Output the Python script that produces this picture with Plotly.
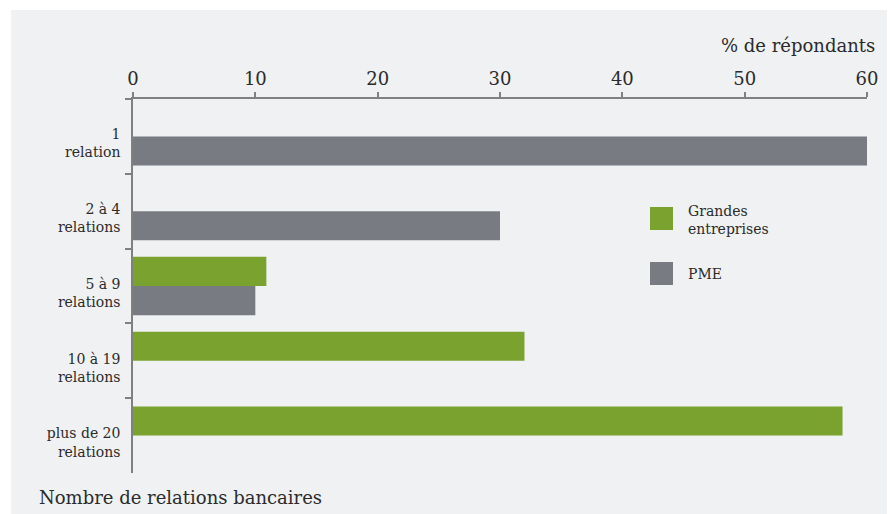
import plotly.graph_objects as go

categories = ["1<br>relation", "2 à 4<br>relations", "5 à 9<br>relations",
              "10 à 19<br>relations", "plus de 20<br>relations"]
grandes = [None, None, 10.9, 32.0, 58.0]
pme = [60.0, 30.0, 10.0, None, None]
x_ticks = [0, 10, 20, 30, 40, 50, 60]
series_names = ["Grandes<br>entreprises", "PME"]

GREEN = "#79a22f"
GRAY = "#797b83"
BG = "#f0f1f3"
TXT = "#2b2b2b"
AX = "#808080"
FONT = "DejaVu Serif"

# page body has an 8px margin: build figure in page pixels, then offset
OFF = 8
PW, PH = 895, 514
W, H = PW - OFF, PH - OFF
L, R, T, B = 133 - OFF, PW - 867, 99 - OFF, PH - 473
pw, ph = W - L - R, H - T - B

def px(x):
    return (x - OFF - L) / pw

def py(y):
    return (H - B - (y - OFF)) / ph

fig = go.Figure()
fig.add_trace(go.Bar(y=categories, x=grandes, orientation="h", name="Grandes entreprises",
                     marker=dict(color=GREEN, line=dict(width=0)), showlegend=False))
fig.add_trace(go.Bar(y=categories, x=pme, orientation="h", name="PME",
                     marker=dict(color=GRAY, line=dict(width=0)), showlegend=False))

shapes = [
    dict(type="rect", xref="paper", yref="paper", x0=px(11), x1=px(PW + 2), y0=py(PH + 2), y1=py(10),
         fillcolor=BG, line=dict(width=0), layer="below"),
    dict(type="rect", xref="paper", yref="paper", x0=px(650), x1=px(673), y0=py(230), y1=py(207),
         fillcolor=GREEN, line=dict(width=0)),
    dict(type="rect", xref="paper", yref="paper", x0=px(650), x1=px(673), y0=py(285), y1=py(262),
         fillcolor=GRAY, line=dict(width=0)),
]

annotations = [
    dict(text="% de répondants", xref="paper", yref="paper", x=px(877), y=py(45),
         xanchor="right", yanchor="middle", showarrow=False, font=dict(size=18, color=TXT, family=FONT)),
    dict(text="Nombre de relations bancaires", xref="paper", yref="paper", x=px(37), y=py(497),
         xanchor="left", yanchor="middle", showarrow=False, font=dict(size=18, color=TXT, family=FONT)),
    dict(text=series_names[0], xref="paper", yref="paper", x=px(686), y=py(220),
         xanchor="left", yanchor="middle", align="left", showarrow=False,
         font=dict(size=14, color=TXT, family=FONT)),
    dict(text=series_names[1], xref="paper", yref="paper", x=px(686), y=py(274),
         xanchor="left", yanchor="middle", align="left", showarrow=False,
         font=dict(size=14, color=TXT, family=FONT)),
]

fig.update_layout(
    width=W, height=H,
    margin=dict(l=L, r=R, t=T, b=B, pad=0),
    paper_bgcolor="white", plot_bgcolor="rgba(0,0,0,0)",
    barmode="group", bargap=0.22, bargroupgap=0,
    font=dict(family=FONT, color=TXT),
    shapes=shapes, annotations=annotations,
    xaxis=dict(side="top", range=[0, 60], tickvals=x_ticks, ticks="outside", ticklen=5,
               tickcolor=AX, tickwidth=1.5, showline=True, linecolor=AX, linewidth=1.5,
               showgrid=False, zeroline=False, tickfont=dict(size=18, color=TXT, family=FONT)),
    yaxis=dict(autorange="reversed", type="category", ticks="outside", tickson="boundaries",
               ticklen=6, tickcolor=AX, tickwidth=1.5, showline=True, linecolor=AX, linewidth=1.5,
               showgrid=False, zeroline=False, ticklabelstandoff=8, ticklabelshift=-7,
               tickfont=dict(size=14, color=TXT, family=FONT)),
)

fig.write_html("out.html")
